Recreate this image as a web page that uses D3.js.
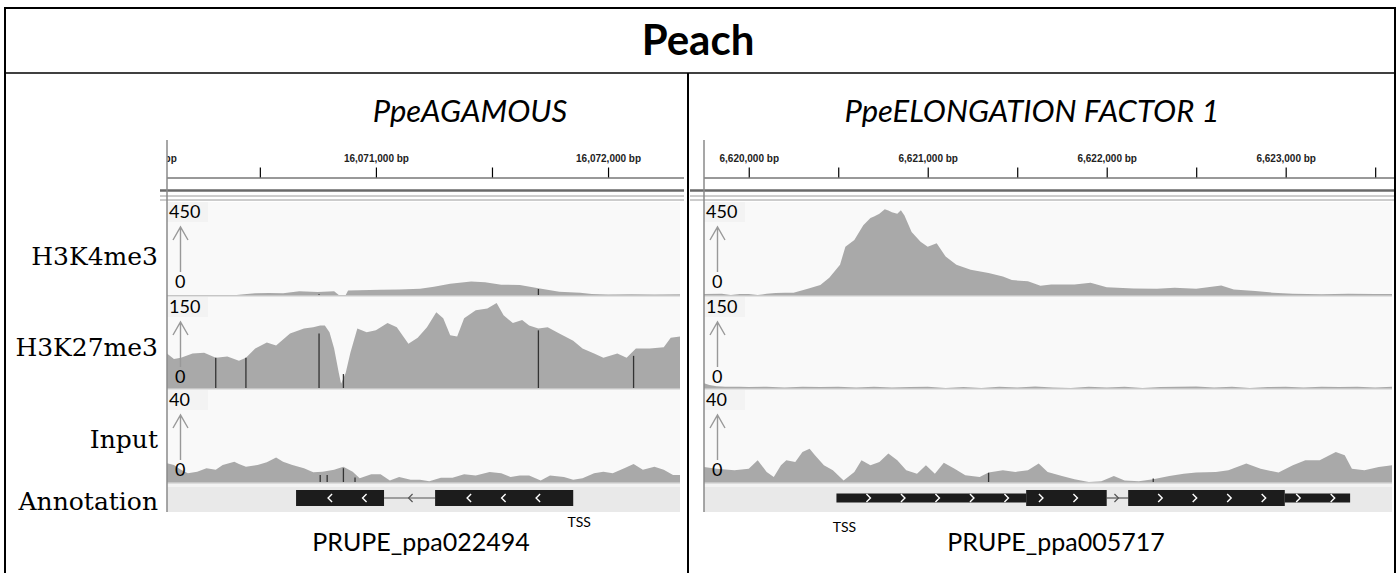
<!DOCTYPE html>
<html><head><meta charset="utf-8">
<script src="https://cdn.jsdelivr.net/npm/d3@7"></script>
<style>body{margin:0;background:#fff}svg{display:block}</style>
</head><body>
<svg id="c" width="1397" height="573"></svg>
<script>
// ---------------- DATA ----------------
const title = "Peach";
const geneTitles = ["PpeAGAMOUS", "PpeELONGATION FACTOR 1"];
const geneIds = ["PRUPE_ppa022494", "PRUPE_ppa005717"];
const trackNames = ["H3K4me3", "H3K27me3", "Input", "Annotation"];
const trackMax = [450, 150, 40];

const leftDomain = [16070100, 16072310];
const rightDomain = [6619750, 6623594];
const leftTicks = [16070000, 16070500, 16071000, 16071500, 16072000];
const rightTicks = [6620000, 6620500, 6621000, 6621500, 6622000, 6622500, 6623000, 6623500];

// left panel (PpeAGAMOUS) coverage: [bp, value]
const leftK4 = [[16070100,0],[16070400,0],[16070420,3],[16070480,8],[16070540,10],[16070600,8],[16070670,18],[16070750,15],[16070820,18],[16070840,0],[16070870,0],[16070880,22],[16071020,25],[16071100,27],[16071190,30],[16071250,40],[16071320,55],[16071410,65],[16071470,62],[16071540,50],[16071620,48],[16071700,33],[16071790,16],[16071880,11],[16071930,5],[16072000,3],[16072100,4],[16072200,3],[16072310,4]];
const leftK27 = [[16070100,57],[16070130,48],[16070160,50],[16070210,57],[16070260,58],[16070310,50],[16070360,52],[16070410,45],[16070440,50],[16070480,65],[16070530,75],[16070570,70],[16070630,90],[16070690,98],[16070730,100],[16070760,103],[16070780,103],[16070800,92],[16070820,65],[16070840,25],[16070850,7],[16070870,25],[16070890,58],[16070920,98],[16070960,92],[16071000,95],[16071050,107],[16071090,100],[16071140,73],[16071180,83],[16071220,100],[16071260,125],[16071290,115],[16071320,87],[16071350,85],[16071380,115],[16071430,128],[16071480,131],[16071520,140],[16071550,120],[16071590,107],[16071630,112],[16071660,103],[16071700,98],[16071740,100],[16071790,90],[16071850,78],[16071890,65],[16071940,57],[16071980,50],[16072040,57],[16072080,50],[16072120,65],[16072180,65],[16072240,67],[16072270,83],[16072310,85]];
const leftInput = [[16070100,8.2],[16070130,7.4],[16070160,5.3],[16070190,3.8],[16070230,4.5],[16070270,6],[16070310,5.3],[16070340,7.4],[16070390,8.8],[16070410,7.8],[16070440,6.6],[16070490,7.4],[16070530,8.6],[16070570,10.6],[16070600,8.8],[16070640,7.4],[16070690,6],[16070730,4.2],[16070770,4.5],[16070820,5.3],[16070860,6.6],[16070900,4.5],[16070930,1.6],[16070980,3.4],[16071020,3.4],[16071060,0.7],[16071100,2.2],[16071150,1],[16071190,1],[16071230,0.3],[16071280,1.8],[16071330,1.8],[16071380,3.4],[16071430,2.8],[16071490,4.3],[16071540,3.8],[16071580,2.2],[16071620,2.8],[16071660,2.8],[16071710,0.7],[16071750,2.8],[16071810,2.2],[16071850,1],[16071890,1.6],[16071940,3.8],[16071980,4.5],[16072020,3.8],[16072070,6],[16072110,7.8],[16072150,5.3],[16072200,6.6],[16072240,5.3],[16072280,3],[16072310,3]];
const leftK4Marks = [[16070755,4],[16071700,29]];
const leftK27Marks = [[16070310,50],[16070440,50],[16070755,90],[16070860,23],[16071700,95],[16072110,53]];
const leftInputMarks = [[16070760,3],[16070790,3],[16070860,6],[16070910,2]];

// right panel (PpeELONGATION FACTOR 1) coverage: [bp, value]
const rightK4 = [[6619750,5],[6619850,6],[6619900,0],[6619950,5],[6620000,5],[6620050,0],[6620100,6],[6620150,10],[6620200,11],[6620250,11],[6620330,30],[6620400,48],[6620450,83],[6620510,146],[6620540,234],[6620590,266],[6620640,337],[6620680,372],[6620700,380],[6620730,393],[6620760,415],[6620780,409],[6620800,400],[6620830,393],[6620850,410],[6620870,385],[6620910,305],[6620960,258],[6621000,234],[6621050,250],[6621100,186],[6621160,146],[6621240,122],[6621340,107],[6621420,90],[6621470,72],[6621560,67],[6621630,45],[6621690,51],[6621820,51],[6621910,59],[6622000,38],[6622150,32],[6622280,30],[6622380,35],[6622500,30],[6622640,46],[6622710,27],[6622830,19],[6622930,11],[6623040,6],[6623200,4],[6623350,6],[6623500,5],[6623594,5]];
const rightK27 = [[6619750,8],[6619780,5],[6619820,3],[6619870,2],[6619950,2],[6620000,1.5],[6620100,2],[6620200,1],[6620300,2],[6620400,1.5],[6620500,2],[6620600,1],[6620700,2],[6620800,1],[6620900,1.5],[6621000,2],[6621100,0],[6621200,1.5],[6621300,0],[6621400,2],[6621500,1],[6621600,2.5],[6621700,1],[6621800,0],[6621900,2],[6622000,1],[6622100,2],[6622200,0],[6622300,1.5],[6622400,2],[6622500,2.5],[6622600,1],[6622700,2],[6622800,0],[6622900,1.5],[6623000,2],[6623100,1],[6623200,2],[6623300,1.5],[6623400,2],[6623500,1],[6623594,2]];
const rightInput = [[6619750,6.5],[6619820,5.8],[6619920,5.1],[6620000,5.8],[6620050,9.5],[6620100,4.4],[6620140,2.2],[6620180,7.3],[6620210,9.5],[6620260,8.7],[6620300,13],[6620340,14.5],[6620370,11.6],[6620420,7.3],[6620470,5.1],[6620530,0.7],[6620590,4.4],[6620630,9.5],[6620680,7.3],[6620730,8.7],[6620780,12.4],[6620830,9.5],[6620880,5.1],[6620940,3.6],[6620990,7.3],[6621040,3.6],[6621090,8.4],[6621150,5.8],[6621210,2.9],[6621290,2.2],[6621340,4.1],[6621420,5.1],[6621490,4.4],[6621560,5.1],[6621620,8],[6621670,4.4],[6621750,2.6],[6621820,1.2],[6621900,0],[6621970,0.3],[6622040,2.6],[6622100,0.7],[6622180,0.3],[6622260,1.2],[6622350,2.6],[6622430,3.6],[6622500,4.1],[6622610,4.4],[6622680,5.1],[6622780,8],[6622860,5.8],[6622960,4.1],[6623040,7.3],[6623110,9.5],[6623190,9.5],[6623280,13],[6623330,11.6],[6623370,5.8],[6623440,5.1],[6623520,6.5],[6623594,7.3]];
const rightK4Marks = [];
const rightK27Marks = [];
const rightInputMarks = [[6621340,4],[6622260,1.5]];

// gene models: exons [start,end], coding region [start,end], strand
const leftGeneExons = [[16070656,16071035],[16071255,16071850]];
const leftGeneCds = [16070656,16071850];
const leftGeneStrand = -1;
const leftTss = 16071850;
const rightGeneExons = [[6620490,6622000],[6622120,6623360]];
const rightGeneCds = [6621550,6622995];
const rightGeneStrand = 1;
const rightTss = 6620490;

// ---------------- DRAW ----------------
const svg = d3.select("#c");
const defs = svg.append("defs");
const SANS = "Lato, 'Open Sans', sans-serif";
const SERIF = "'DejaVu Serif', serif";

// outer frame
svg.append("path").attr("d","M5,573 V8 H1395 V573").attr("fill","none").attr("stroke","#000").attr("stroke-width",2);
svg.append("line").attr("x1",5).attr("x2",1395).attr("y1",73).attr("y2",73).attr("stroke","#000").attr("stroke-width",1.5);
svg.append("line").attr("x1",688).attr("x2",688).attr("y1",73).attr("y2",573).attr("stroke","#000").attr("stroke-width",2);

svg.append("text").attr("x",698).attr("y",55).attr("text-anchor","middle")
  .attr("font-family",SANS).attr("font-weight","bold").attr("font-size",42).text(title);

const trackTops = [202, 297, 390];
const trackHeights = [93, 91, 92];
const annTop = 483, annBottom = 512;
const geneY = 498;

// left-side track labels
const labelBaselines = [265, 356, 448, 510];
trackNames.forEach((n,i)=>{
  svg.append("text").attr("x",158).attr("y",labelBaselines[i]).attr("text-anchor","end")
    .attr("font-family",SERIF).attr("font-size",25).attr("fill","#000").text(n);
});

const panels = [
  {title:geneTitles[0], titleX:470, id:geneIds[0], idX:421, x0:167, x1:680, lx0:160, lx1:684,
   domain:leftDomain, ticks:leftTicks, tracks:[leftK4,leftK27,leftInput],
   marks:[leftK4Marks,leftK27Marks,leftInputMarks],
   exons:leftGeneExons, cds:leftGeneCds, strand:leftGeneStrand, tss:leftTss, tssDx:6, tssY:527},
  {title:geneTitles[1], titleX:1032, id:geneIds[1], idX:1056, x0:704, x1:1392, lx0:690, lx1:1394,
   domain:rightDomain, ticks:rightTicks, tracks:[rightK4,rightK27,rightInput],
   marks:[rightK4Marks,rightK27Marks,rightInputMarks],
   exons:rightGeneExons, cds:rightGeneCds, strand:rightGeneStrand, tss:rightTss, tssDx:8, tssY:532}
];

panels.forEach((p,pi)=>{
  const x = d3.scaleLinear().domain(p.domain).range([p.x0,p.x1]);
  const clipId = "clip"+pi;
  defs.append("clipPath").attr("id",clipId).append("rect")
    .attr("x",p.x0).attr("y",130).attr("width",p.x1-p.x0).attr("height",390);
  const g = svg.append("g");
  const cg = g.append("g").attr("clip-path",`url(#${clipId})`);

  // gene title
  g.append("text").attr("x",p.titleX).attr("y",122).attr("text-anchor","middle")
    .attr("font-family",SANS).attr("font-style","italic").attr("font-size",31).text(p.title);

  // ruler
  cg.append("rect").attr("x",p.x0).attr("y",138).attr("width",p.x1-p.x0).attr("height",64).attr("fill","#fff");
  const axis = d3.axisTop(x).tickValues(p.ticks).tickSize(10).tickPadding(6)
    .tickFormat(d => d % 1000 === 0 ? d3.format(",")(d) + " bp" : "");
  const ax = cg.append("g").attr("transform","translate(0,177.5)").call(axis);
  ax.select(".domain").remove();
  ax.selectAll(".tick line").attr("stroke","#000").attr("stroke-width",1.2);
  ax.selectAll(".tick text").attr("font-family","'Liberation Sans', Arial, sans-serif")
    .attr("font-size",10).attr("font-weight","bold").attr("fill","#222");

  g.append("line").attr("x1",p.x0).attr("x2",p.lx1).attr("y1",178).attr("y2",178).attr("stroke","#333").attr("stroke-width",1);
  g.append("line").attr("x1",p.lx0).attr("x2",p.lx1).attr("y1",190.5).attr("y2",190.5).attr("stroke","#6a6a6a").attr("stroke-width",2.5);
  g.append("line").attr("x1",p.lx0).attr("x2",p.lx1).attr("y1",196).attr("y2",196).attr("stroke","#9a9a9a").attr("stroke-width",1);
  g.append("line").attr("x1",p.lx0).attr("x2",p.lx1).attr("y1",200).attr("y2",200).attr("stroke","#9a9a9a").attr("stroke-width",1);

  // coverage tracks
  p.tracks.forEach((data,i)=>{
    const top = trackTops[i], h = trackHeights[i], base = top + h;
    const y = d3.scaleLinear().domain([0,trackMax[i]]).range([base, top]);
    cg.append("rect").attr("x",p.x0).attr("y",top).attr("width",p.x1-p.x0).attr("height",h).attr("fill","#f9f9f9");
    const area = d3.area().x(d=>x(d[0])).y0(y(0)).y1(d=>y(d[1]));
    cg.append("path").datum(data).attr("d",area).attr("fill","#a9a9a9");
    cg.selectAll(null).data(p.marks[i]).join("line")
      .attr("x1",d=>x(d[0])).attr("x2",d=>x(d[0])).attr("y1",y(0)).attr("y2",d=>y(d[1]))
      .attr("stroke","#333").attr("stroke-width",1.3);
    // data range label
    cg.append("rect").attr("x",p.x0).attr("y",top).attr("width",41).attr("height",20).attr("fill","#f2f2f2").attr("opacity",0.85);
    cg.append("text").attr("x",p.x0+2).attr("y",top+16).attr("font-family",SANS).attr("font-size",18).text(trackMax[i]);
    cg.append("text").attr("x",p.x0+8).attr("y",top+86).attr("font-family",SANS).attr("font-size",18).text(0);
    const ax0 = p.x0 + 13.5;
    cg.append("path").attr("d",`M${ax0},${top+70} V${top+25} M${ax0-7.5},${top+38} L${ax0},${top+25} L${ax0+7.5},${top+38}`)
      .attr("fill","none").attr("stroke","#999").attr("stroke-width",1.4);
    // separator
    g.append("line").attr("x1",p.x0).attr("x2",p.x1).attr("y1",base+0.8).attr("y2",base+0.8).attr("stroke","#c6c6c6").attr("stroke-width",1.6);
  });

  // annotation
  cg.append("rect").attr("x",p.x0).attr("y",annTop).attr("width",p.x1-p.x0).attr("height",annBottom-annTop).attr("fill","#e9e9e9");
  cg.append("rect").attr("x",p.x0).attr("y",annTop).attr("width",p.x1-p.x0).attr("height",4).attr("fill","#f3f3f3");
  const ex = p.exons;
  // introns
  for (let k=0;k<ex.length-1;k++){
    const a = x(ex[k][1]), b = x(ex[k+1][0]), m = (a+b)/2;
    cg.append("line").attr("x1",a).attr("x2",b).attr("y1",geneY).attr("y2",geneY).attr("stroke","#555").attr("stroke-width",1.2);
    const s = p.strand;
    cg.append("path").attr("d",`M${m-3*s},${geneY-4} L${m+1*s},${geneY} L${m-3*s},${geneY+4}`)
      .attr("fill","none").attr("stroke","#555").attr("stroke-width",1.2);
  }
  ex.forEach(e=>{
    const thinL = [e[0], Math.min(e[1], p.cds[0])];
    const thinR = [Math.max(e[0], p.cds[1]), e[1]];
    const thick = [Math.max(e[0],p.cds[0]), Math.min(e[1],p.cds[1])];
    [thinL, thinR].forEach(t=>{ if (t[1]>t[0]) cg.append("rect").attr("x",x(t[0])).attr("y",geneY-4.5).attr("width",x(t[1])-x(t[0])).attr("height",9).attr("fill","#1c1c1c"); });
    if (thick[1]>thick[0]) cg.append("rect").attr("x",x(thick[0])).attr("y",geneY-8).attr("width",x(thick[1])-x(thick[0])).attr("height",16).attr("fill","#1c1c1c");
    const xs = x(e[0]), xe = x(e[1]);
    const s = p.strand;
    for (let c = xs+33; c < xe-8; c += 34.5){
      cg.append("path").attr("d",`M${c-3*s},${geneY-4} L${c+1*s},${geneY} L${c-3*s},${geneY+4}`)
        .attr("fill","none").attr("stroke","#fff").attr("stroke-width",1.4);
    }
  });

  // panel left border
  g.append("line").attr("x1",p.x0).attr("x2",p.x0).attr("y1",140).attr("y2",annBottom).attr("stroke","#8a8a8a").attr("stroke-width",1.5);

  // labels below
  g.append("text").attr("x",p.idX).attr("y",551).attr("text-anchor","middle")
    .attr("font-family",SANS).attr("font-size",25).text(p.id);
  g.append("text").attr("x",x(p.tss)+p.tssDx).attr("y",p.tssY).attr("text-anchor","middle")
    .attr("font-family",SANS).attr("font-size",14).text("TSS");
});
</script>
</body></html>
